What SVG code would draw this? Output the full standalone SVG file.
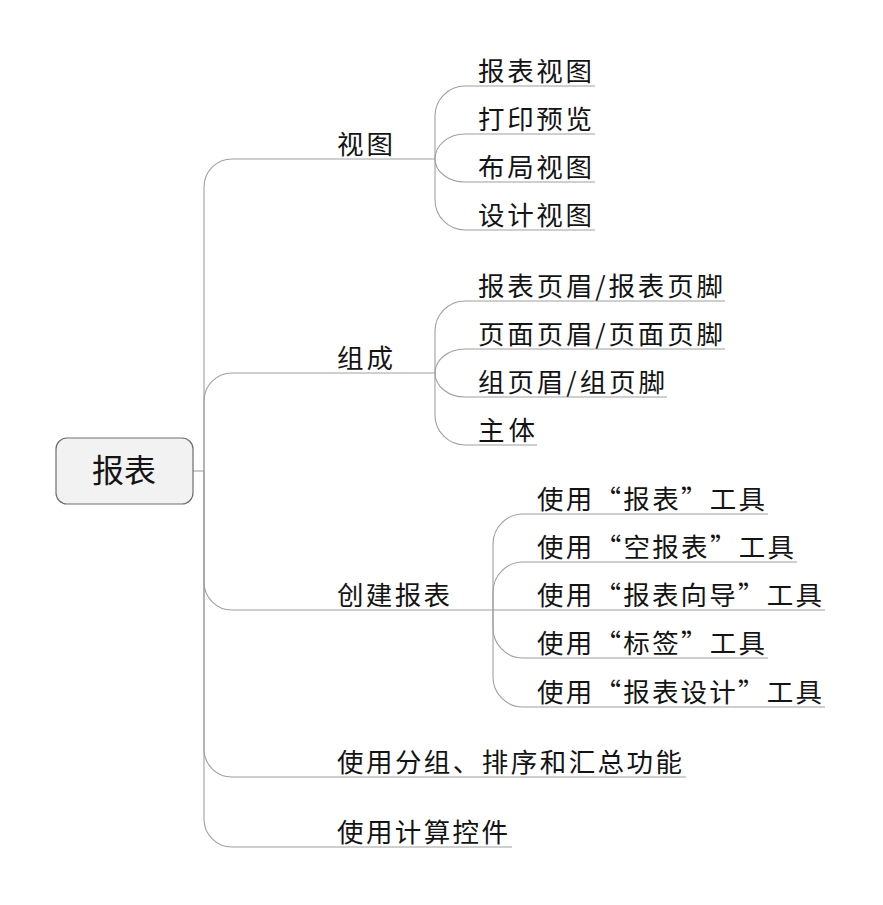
<svg xmlns="http://www.w3.org/2000/svg" width="883" height="905" viewBox="0 0 883 905">
<style>
.bg{fill:#ffffff}
.c{fill:none;stroke:#a0a0a0;stroke-width:1.1}
.t{font-family:"Noto Sans CJK SC","Noto Sans CJK JP",sans-serif;font-size:26.5px;fill:#141414}
.root-box{fill:#f2f2f2;stroke:#6e6e6e;stroke-width:1.2}
.root-t{font-family:"Noto Sans CJK SC","Noto Sans CJK JP",sans-serif;font-size:32px;fill:#141414;text-anchor:middle}
</style>
<rect class="bg" x="0" y="0" width="883" height="905"/>
<g id="connectors">
<path class="c" d="M193 471 H204"/>
<path class="c" d="M204 471 V187 A28 28 0 0 1 232 159 H435"/>
<path class="c" d="M204 471 V401 A28 28 0 0 1 232 373 H435"/>
<path class="c" d="M204 471 V582 A28 28 0 0 0 232 610 H493"/>
<path class="c" d="M204 471 V749 A28 28 0 0 0 232 777 H686"/>
<path class="c" d="M204 471 V819 A28 28 0 0 0 232 847 H512"/>
<path class="c" d="M435 159 V116 A30 30 0 0 1 465 86 H595"/>
<path class="c" d="M435 159 A30 25 0 0 1 465 134 H595"/>
<path class="c" d="M435 159 A30 23 0 0 0 465 182 H595"/>
<path class="c" d="M435 159 V200 A30 30 0 0 0 465 230 H595"/>
<path class="c" d="M435 373 V331 A30 30 0 0 1 465 301 H725"/>
<path class="c" d="M435 373 A30 24 0 0 1 465 349 H725"/>
<path class="c" d="M435 373 A30 24 0 0 0 465 397 H667"/>
<path class="c" d="M435 373 V415 A30 30 0 0 0 465 445 H537"/>
<path class="c" d="M493 610 V544 A30 30 0 0 1 523 514 H768"/>
<path class="c" d="M493 610 V592 A30 30 0 0 1 523 562 H797"/>
<path class="c" d="M493 610 H825"/>
<path class="c" d="M493 610 V628 A30 30 0 0 0 523 658 H768"/>
<path class="c" d="M493 610 V677 A30 30 0 0 0 523 707 H825"/>
</g>
<g id="root">
<rect class="root-box" x="56" y="438" width="137" height="66" rx="11"/>
<text class="root-t" x="124" y="482">报表</text>
</g>
<g id="n-view"><text class="t" x="337" y="154" textLength="56" lengthAdjust="spacing">视图</text></g>
<g id="n-view-1"><text class="t" x="478" y="81" textLength="114" lengthAdjust="spacing">报表视图</text></g>
<g id="n-view-2"><text class="t" x="478" y="129" textLength="114" lengthAdjust="spacing">打印预览</text></g>
<g id="n-view-3"><text class="t" x="478" y="177" textLength="114" lengthAdjust="spacing">布局视图</text></g>
<g id="n-view-4"><text class="t" x="478" y="225" textLength="114" lengthAdjust="spacing">设计视图</text></g>
<g id="n-comp"><text class="t" x="337" y="368" textLength="56" lengthAdjust="spacing">组成</text></g>
<g id="n-comp-1"><text class="t" x="478" y="296" textLength="245" lengthAdjust="spacing">报表页眉/报表页脚</text></g>
<g id="n-comp-2"><text class="t" x="478" y="344" textLength="245" lengthAdjust="spacing">页面页眉/页面页脚</text></g>
<g id="n-comp-3"><text class="t" x="478" y="392" textLength="187" lengthAdjust="spacing">组页眉/组页脚</text></g>
<g id="n-comp-4"><text class="t" x="478" y="440" textLength="57" lengthAdjust="spacing">主体</text></g>
<g id="n-create"><text class="t" x="337" y="605" textLength="113" lengthAdjust="spacing">创建报表</text></g>
<g id="n-create-1"><text class="t" x="537" y="509" textLength="228" lengthAdjust="spacing">使用“报表”工具</text></g>
<g id="n-create-2"><text class="t" x="537" y="557" textLength="257" lengthAdjust="spacing">使用“空报表”工具</text></g>
<g id="n-create-3"><text class="t" x="537" y="605" textLength="285" lengthAdjust="spacing">使用“报表向导”工具</text></g>
<g id="n-create-4"><text class="t" x="537" y="653" textLength="228" lengthAdjust="spacing">使用“标签”工具</text></g>
<g id="n-create-5"><text class="t" x="537" y="702" textLength="285" lengthAdjust="spacing">使用“报表设计”工具</text></g>
<g id="n-group"><text class="t" x="337" y="772" textLength="345" lengthAdjust="spacing">使用分组、排序和汇总功能</text></g>
<g id="n-calc"><text class="t" x="337" y="842" textLength="171" lengthAdjust="spacing">使用计算控件</text></g>
</svg>
